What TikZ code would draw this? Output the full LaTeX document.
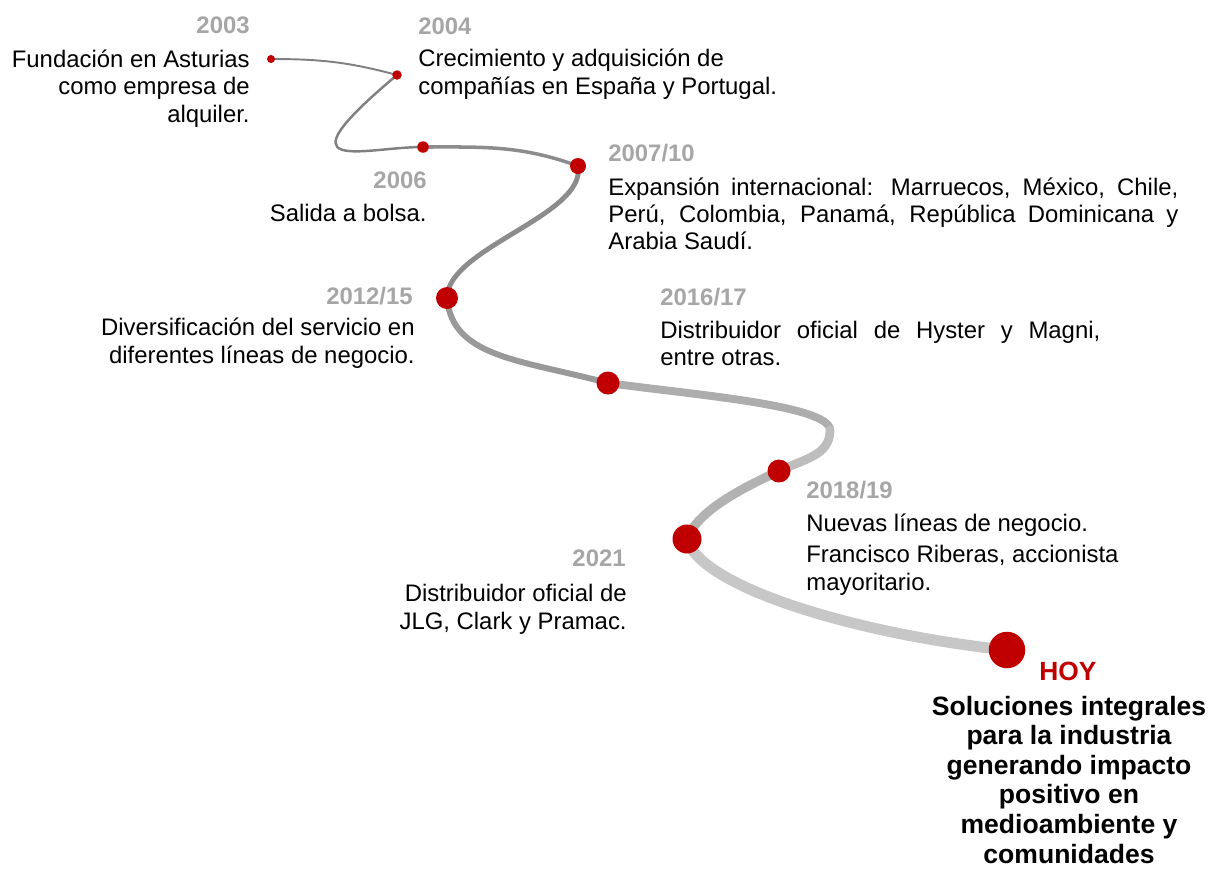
\documentclass[tikz,border=0pt]{standalone}
\usepackage{fontspec}
\setmainfont{Liberation Sans}
\usetikzlibrary{backgrounds}
\definecolor{hitored}{HTML}{C00000}
\definecolor{yeargray}{HTML}{A6A6A6}

\begin{document}
\begin{tikzpicture}[x=0.2mm,y=0.2mm,
    hito/.style={circle,fill=hitored,inner sep=0pt,minimum size=#1},
    yr/.style={font=\fontsize{13.6}{16}\selectfont\bfseries,text=yeargray,inner sep=0pt},
    txt/.style={font=\fontsize{13.6}{15.5}\selectfont,inner sep=0pt},
    track/.style={line cap=round,line width=#1}]
  \useasboundingbox (0,0) rectangle (1209,-871);

  \node[hito=1.6mm] (h03) at (271,-59) {};
  \node[hito=1.9mm] (h04) at (397,-75) {};
  \node[hito=2.3mm] (h06) at (423,-147) {};
  \node[hito=3.2mm] (h07) at (578,-166) {};
  \node[hito=4.4mm] (h12) at (447,-298) {};
  \node[hito=4.6mm] (h16) at (608,-383) {};
  \coordinate (bend) at (830,-430);
  \node[hito=4.6mm] (h18) at (779,-471) {};
  \node[hito=5.8mm] (h21) at (687,-539) {};
  \node[hito=7.3mm] (hoy) at (1007,-650) {};

  \begin{scope}[on background layer]
    \draw[track=1.1pt,black!50] (h03.center) to[out=0,in=165] (h04.center);
    \draw[track=1.4pt,black!50] (h04.center) to[out=-140,in=180,out distance=32mm,in distance=12mm] (h06.center);
    \draw[track=2pt,black!45] (h06.center) to[out=0,in=160] (h07.center);
    \draw[track=2.8pt,black!45] (h07.center) to[out=-80,in=90,out distance=10mm,in distance=10mm] (h12.center);
    \draw[track=3.4pt,black!40] (h12.center) to[out=-85,in=165,out distance=12mm,in distance=18mm] (h16.center);
    \draw[track=4.5pt,black!32] (h16.center) to[out=-8,in=90,out distance=16mm,in distance=5mm] (bend);
    \draw[track=5pt,black!26] (bend) to[out=-90,in=25,out distance=5mm,in distance=6mm] (h18.center);
    \draw[track=5.2pt,black!30] (h18.center) to[out=-155,in=70,out distance=8mm,in distance=6mm] (h21.center);
    \draw[track=6.2pt,black!22] (h21.center) to[out=-75,in=174,out distance=10mm,in distance=30mm] (hoy.center);
  \end{scope}

  \node[yr,anchor=base east] (y03) at (250,-33) {2003};
  \node[txt,anchor=base east,align=right] (t03) at (250,-122) {Fundación en Asturias\\como empresa de\\alquiler.};
  \node[yr,anchor=base west] (y04) at (418,-34) {2004};
  \node[txt,anchor=base west,align=left] (t04) at (418,-94) {Crecimiento y adquisición de\\compañías en España y Portugal.};
  \node[yr,anchor=base east] (y06) at (427,-188) {2006};
  \node[txt,anchor=base east] (t06) at (427,-221) {Salida a bolsa.};
  \node[yr,anchor=base west] (y07) at (608,-161) {2007/10};
  \node[txt,anchor=base west,text width=114mm,align=justify] (t07) at (608,-195) {Expansión internacional: Marruecos, México, Chile,\linebreak Perú, Colombia, Panamá, República Dominicana y\linebreak Arabia Saudí.};
  \node[yr,anchor=base east] (y12) at (413,-304) {2012/15};
  \node[txt,anchor=base east,align=right] (t12) at (415,-363) {Diversificación del servicio en\\diferentes líneas de negocio.};
  \node[yr,anchor=base west] (y16) at (660,-305) {2016/17};
  \node[txt,anchor=base west,text width=88mm,align=justify] (t16) at (660,-338) {Distribuidor oficial de Hyster y Magni,\linebreak entre otras.};
  \node[yr,anchor=base west] (y18) at (806,-498) {2018/19};
  \node[txt,anchor=base west,align=left] (t18) at (806,-590) {Nuevas líneas de negocio.\\[2.2pt]Francisco Riberas, accionista\\mayoritario.};
  \node[yr,anchor=base east] (y21) at (626,-566) {2021};
  \node[txt,anchor=base east,align=right] (t21) at (627,-629) {Distribuidor oficial de\\JLG, Clark y Pramac.};
  \node[font=\fontsize{15}{18}\selectfont\bfseries,text=hitored,inner sep=0pt,anchor=base] (yhoy) at (1068,-680) {HOY};
  \node[font=\fontsize{15.1}{16.8}\selectfont\bfseries,inner sep=0pt,anchor=base,align=center] (thoy) at (1069,-863) {Soluciones integrales\\para la industria\\generando impacto\\positivo en\\medioambiente y\\comunidades};
\end{tikzpicture}
\end{document}
